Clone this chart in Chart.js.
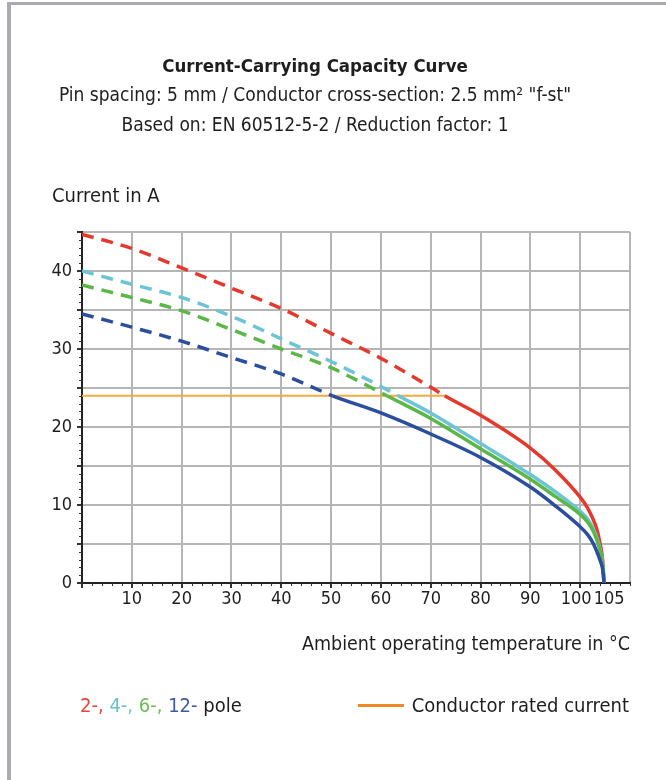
<!DOCTYPE html>
<html>
<head>
<meta charset="utf-8">
<script src="https://cdn.jsdelivr.net/npm/chart.js@4"></script>
<style>
  body { margin: 0; background: #fff; font-family: "Liberation Sans Narrow", "DejaVu Sans Condensed", Roboto, sans-serif; color: #1e1e1e; }
  #frame { position: absolute; left: 7px; top: 2px; width: 700px; height: 800px; border-left: 4px solid #a9abb1; border-top: 3px solid #a9abb1; }
  #wrap { position: absolute; left: 0; top: 0; width: 666px; height: 780px; }
  .txt { position: absolute; font-size: 20px; line-height: 26px; white-space: nowrap; }
  #swatch { position: absolute; left: 358px; top: 704px; width: 46px; height: 3px; background: #f08a24; }
</style>
</head>
<body>
<div id="frame"></div>
<div id="wrap"><canvas id="capChart"></canvas></div>
<div class="txt" style="left:52px; top:182px;">Current in A</div>
<div class="txt" style="left:80px; top:692px;"><span style="color:#e2453a">2-,</span> <span style="color:#69c0d0">4-,</span> <span style="color:#6cbb56">6-,</span> <span style="color:#3a5ba0">12-</span> pole</div>
<div id="swatch"></div>
<div class="txt" style="right:37px; top:692px;">Conductor rated current</div>
<script>
const FONT = '"Liberation Sans Narrow", "DejaVu Sans Condensed", Roboto, sans-serif';

// 2-pole
const redTemp = [0, 10, 20, 30, 40, 50, 60, 70, 72.8, 80, 90, 95, 100, 101.5, 102.5, 103.3, 104, 104.5, 104.8];
const redAmp = [44.7, 42.9, 40.4, 37.8, 35.2, 32.0, 28.8, 25.1, 24.0, 21.5, 17.3, 14.5, 11.0, 9.6, 8.3, 7.0, 5.0, 3.0, 0];
// 4-pole
const cyanTemp = [0, 10, 20, 30, 40, 50, 60, 63.5, 70, 80, 90, 95, 100, 101.5, 102.5, 103.3, 104, 104.5, 104.8];
const cyanAmp = [40.0, 38.3, 36.6, 34.2, 31.3, 28.4, 25.2, 24.0, 21.8, 17.9, 13.9, 11.7, 9.2, 8.2, 7.1, 5.9, 4.3, 2.6, 0];
// 6-pole
const greenTemp = [0, 10, 20, 30, 40, 50, 60, 61.2, 70, 80, 90, 95, 100, 101.5, 102.5, 103.3, 104, 104.5, 104.8];
const greenAmp = [38.2, 36.6, 34.9, 32.5, 30.0, 27.6, 24.4, 24.0, 21.1, 17.2, 13.3, 11.1, 8.8, 7.8, 6.8, 5.6, 4.1, 2.5, 0];
// 12-pole
const blueTemp = [0, 10, 20, 30, 40, 50.3, 60, 70, 80, 90, 95, 100, 101.5, 102.5, 103.3, 104, 104.5, 104.8];
const blueAmp = [34.5, 32.8, 31.0, 28.9, 26.8, 24.0, 21.8, 19.1, 16.1, 12.3, 9.9, 7.2, 6.2, 5.2, 4.1, 2.9, 1.8, 0];
// conductor rated current
const ratedTemp = [0, 73];
const ratedAmp = [24, 24];
const ratedCurrent = 24;

const xTicks = [0, 10, 20, 30, 40, 50, 60, 70, 80, 90, 100, 105, 110];

function pts(xs, ys) {
  return xs.map((x, i) => ({ x: x, y: ys[i] }));
}

function curve(label, xs, ys, color) {
  return {
    label: label,
    data: pts(xs, ys),
    borderColor: color,
    borderWidth: 3.5,
    pointRadius: 0,
    cubicInterpolationMode: "monotone",
    borderCapStyle: "butt",
    segment: {
      borderDash: c => c.p0.parsed.y > ratedCurrent + 0.01 ? [12, 8] : undefined
    }
  };
}

// small ticks on both axes
const minorTicks = {
  id: "minorTicks",
  afterDatasetsDraw(chart) {
    const { ctx, scales } = chart;
    const x = scales.x, y = scales.y;
    ctx.save();
    ctx.strokeStyle = "#333";
    ctx.lineWidth = 1;
    ctx.beginPath();
    for (let v = 0; v <= 45; v += 1) {
      const py = Math.round(y.getPixelForValue(v)) + 0.5;
      ctx.moveTo(x.left - 3, py);
      ctx.lineTo(x.left, py);
    }
    for (let v = 0; v <= 110; v += 2) {
      const px = Math.round(x.getPixelForValue(v)) + 0.5;
      ctx.moveTo(px, y.bottom);
      ctx.lineTo(px, y.bottom + 3);
    }
    ctx.stroke();
    ctx.restore();
  }
};

Chart.defaults.font.family = FONT;
Chart.defaults.color = "#1e1e1e";

const ctx = document.getElementById("capChart").getContext("2d");
const chart = new Chart(ctx, {
  type: "line",
  data: {
    datasets: [
      curve("12-pole", blueTemp, blueAmp, "#2b4f9e"),
      curve("6-pole", greenTemp, greenAmp, "#5cb748"),
      curve("4-pole", cyanTemp, cyanAmp, "#6cc4d4"),
      curve("2-pole", redTemp, redAmp, "#e4392c"),
      {
        label: "Conductor rated current",
        data: pts(ratedTemp, ratedAmp),
        borderColor: "#f4aa3c",
        borderWidth: 2,
        pointRadius: 0
      }
    ]
  },
  options: {
    responsive: true,
    maintainAspectRatio: false,
    animation: false,
    layout: { padding: { left: 0, right: 36, top: 0, bottom: 122 } },
    plugins: {
      legend: { display: false },
      tooltip: { enabled: false },
      title: {
        display: true,
        text: "Current-Carrying Capacity Curve",
        font: { size: 18.5, weight: "bold" },
        color: "#1e1e1e",
        padding: { top: 56, bottom: 3 }
      },
      subtitle: {
        display: true,
        text: ["Pin spacing: 5 mm / Conductor cross-section: 2.5 mm\u00b2 \"f-st\"", "Based on: EN 60512-5-2 / Reduction factor: 1"],
        font: { size: 19, lineHeight: "30px" },
        color: "#1e1e1e",
        padding: { top: 0, bottom: 90.8 }
      }
    },
    scales: {
      x: {
        type: "linear",
        min: 0,
        max: 110,
        afterBuildTicks: s => { s.ticks = xTicks.map(v => ({ value: v })); },
        afterFit: s => { s.height = 75; },
        ticks: {
          autoSkip: false,
          maxRotation: 0,
          padding: 1,
          font: { size: 18 },
          callback: v => {
            if (v === 0 || v === 110) return "";
            if (v === 100) return "100\u2002";
            if (v === 105) return "\u2002105";
            return String(v);
          }
        },
        grid: {
          color: c => (c.tick && c.tick.value === 105) ? "rgba(0,0,0,0)" : "#b5b5b5",
          lineWidth: 2,
          tickLength: 5,
          tickColor: c => (c.tick && (c.tick.value === 105 || c.tick.value === 110)) ? "rgba(0,0,0,0)" : "#333"
        },
        border: { display: true, color: "#222", width: 2 },
        title: {
          display: true,
          text: "Ambient operating temperature in \u00b0C",
          align: "end",
          font: { size: 19.5 },
          color: "#1e1e1e",
          padding: { top: 0, bottom: 1.3 }
        }
      },
      y: {
        min: 0,
        max: 45,
        afterFit: s => { s.width = 82; },
        ticks: {
          stepSize: 5,
          padding: 5,
          font: { size: 18 },
          callback: v => v % 10 === 0 ? String(v) : ""
        },
        grid: {
          color: "#b5b5b5",
          lineWidth: 2,
          tickLength: 5,
          tickColor: "#333"
        },
        border: { display: true, color: "#222", width: 2 }
      }
    }
  },
  plugins: [minorTicks]
});
</script>
</body>
</html>
